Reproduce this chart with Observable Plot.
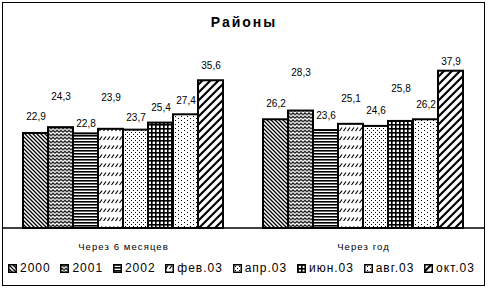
<!DOCTYPE html>
<html><head><meta charset="utf-8">
<script src="https://cdn.jsdelivr.net/npm/d3@7"></script>
<script src="https://cdn.jsdelivr.net/npm/@observablehq/plot@0.6"></script>
<style>
body{margin:0;background:#fff;}
#wrap{position:relative;width:488px;height:289px;overflow:hidden;font-family:Arial,"Liberation Sans",sans-serif;color:#000;background:#fff;}
#frame{position:absolute;left:2px;top:2px;width:481px;height:282px;border:1.5px solid #000;box-sizing:content-box;}
#title{position:absolute;left:0;top:14px;width:488px;text-align:center;font-weight:bold;font-size:14px;line-height:16px;letter-spacing:2px;}
#chart{position:absolute;left:0;top:0;}
#legend{position:absolute;left:8px;top:261px;width:467px;display:flex;justify-content:space-between;font-size:12px;line-height:14px;letter-spacing:1px;}
#legend .item{display:flex;align-items:center;white-space:nowrap;}
#legend svg{margin-right:3px;}
</style>
</head><body>
<div id="wrap">
  <div id="chart"></div>
  <div id="title">Районы</div>
  <div id="legend"></div>
  <div id="frame"></div>
</div>
<script>
const groups = ["Через 6 месяцев", "Через год"];
const series = ["2000", "2001", "2002", "фев.03", "апр.03", "июн.03", "авг.03", "окт.03"];
const values6m = [22.9, 24.3, 22.8, 23.9, 23.7, 25.4, 27.4, 35.6];
const values1y = [26.2, 28.3, 23.6, 25.1, 24.6, 25.8, 26.2, 37.9];

// layout only: how far (px) each value label sits above its bar (staggered as in the reference)
const labelLift6m = [17, 31, 10, 32, 12, 15, 14, 15];
const labelLift1y = [16, 38, 15, 26, 16, 33, 15, 9];

const data = [];
groups.forEach((g, gi) => series.forEach((s, si) => data.push({
  group: g, series: s, idx: si,
  value: (gi ? values1y : values6m)[si],
  lift: (gi ? labelLift1y : labelLift6m)[si]
})));

const pat = i => `url(#pat${i})`;
const fmt = v => v.toFixed(1).replace(".", ",");

const plot = Plot.plot({
  width: 488, height: 260,
  marginTop: 62, marginBottom: 32, marginLeft: 3, marginRight: 4,
  style: {fontFamily: "Arial, 'Liberation Sans', sans-serif", fontSize: "10px", color: "#000", background: "transparent", overflow: "visible"},
  fx: {domain: groups, paddingInner: 0.158, paddingOuter: 0.079, label: null, axis: "bottom", tickSize: 0, tickPadding: 15},
  x: {domain: series, padding: 0, axis: null},
  y: {domain: [0, 40], axis: null},
  color: {type: "identity"},
  marks: [
    Plot.barY(data, {fx: "group", x: "series", y: "value", fill: d => pat(d.idx), stroke: "#000", strokeWidth: 2}),
    ...data.map(d => Plot.text([d], {fx: "group", x: "series", y: "value", text: d => fmt(d.value), dy: -d.lift, fontSize: 10, fill: "#000"}))
  ]
});

const svg = d3.select(plot);
const defs = svg.insert("defs", ":first-child");
function mk(i, w, h, draw) {
  const p = defs.append("pattern").attr("id", "pat" + i).attr("patternUnits", "userSpaceOnUse").attr("width", w).attr("height", h);
  p.append("rect").attr("width", w).attr("height", h).attr("fill", "#fff");
  draw(p);
}
// 2000: dense back-diagonal
mk(0, 4, 4, p => p.append("path").attr("d", "M-1,-1L5,5M-1,3L1,5M3,-1L5,1").attr("stroke", "#000").attr("stroke-width", 1.3));
// 2001: zigzag waves
mk(1, 4, 3.5, p => p.append("path").attr("d", "M0,2.8L2,0.9L4,2.8").attr("stroke", "#000").attr("stroke-width", 1.2).attr("fill", "none"));
// 2002: horizontal lines
mk(2, 4, 3, p => p.append("rect").attr("width", 4).attr("height", 1.6).attr("fill", "#000"));
// фев.03: rows of short slashes
mk(3, 4, 9, p => p.append("path").attr("d", "M0.5,5L3,1.5").attr("stroke", "#000").attr("stroke-width", 1.2));
// апр.03: dots
mk(4, 4, 4, p => { p.append("rect").attr("x", 0).attr("y", 0).attr("width", 1).attr("height", 1).attr("fill", "#000"); p.append("rect").attr("x", 2).attr("y", 2).attr("width", 1).attr("height", 1).attr("fill", "#000"); });
// июн.03: grid
mk(5, 4, 4, p => { p.append("rect").attr("width", 1.6).attr("height", 4).attr("fill", "#000"); p.append("rect").attr("width", 4).attr("height", 1.6).attr("fill", "#000"); });
// авг.03: sparser dots
mk(6, 6, 4, p => { p.append("rect").attr("x", 0).attr("y", 0).attr("width", 1).attr("height", 1).attr("fill", "#000"); p.append("rect").attr("x", 3).attr("y", 2).attr("width", 1).attr("height", 1).attr("fill", "#000"); });
// окт.03: wide forward diagonal
mk(7, 8, 8, p => p.append("path").attr("d", "M-1,9L9,-1M-1,1L1,-1M7,9L9,7").attr("stroke", "#000").attr("stroke-width", 2.2));

// category axis line across the full plot width
const fxRange = plot.scale("fx").range;
const y0 = plot.scale("y").apply(0);
svg.append("line").attr("x1", fxRange[0]).attr("x2", fxRange[1]).attr("y1", y0).attr("y2", y0).attr("stroke", "#000").attr("stroke-width", 1.5);
svg.selectAll('g[aria-label^="fx-axis"] text').attr("letter-spacing", "1.1").attr("font-size", "9.5");

document.getElementById("chart").appendChild(plot);

const legend = d3.select("#legend");
series.forEach((s, i) => {
  const it = legend.append("span").attr("class", "item");
  const sw = it.append("svg").attr("width", 9).attr("height", 9);
  sw.append("rect").attr("x", 0.75).attr("y", 0.75).attr("width", 7.5).attr("height", 7.5).attr("fill", pat(i)).attr("stroke", "#000").attr("stroke-width", 1.5);
  it.append("span").text(s);
});
</script>
</body></html>
